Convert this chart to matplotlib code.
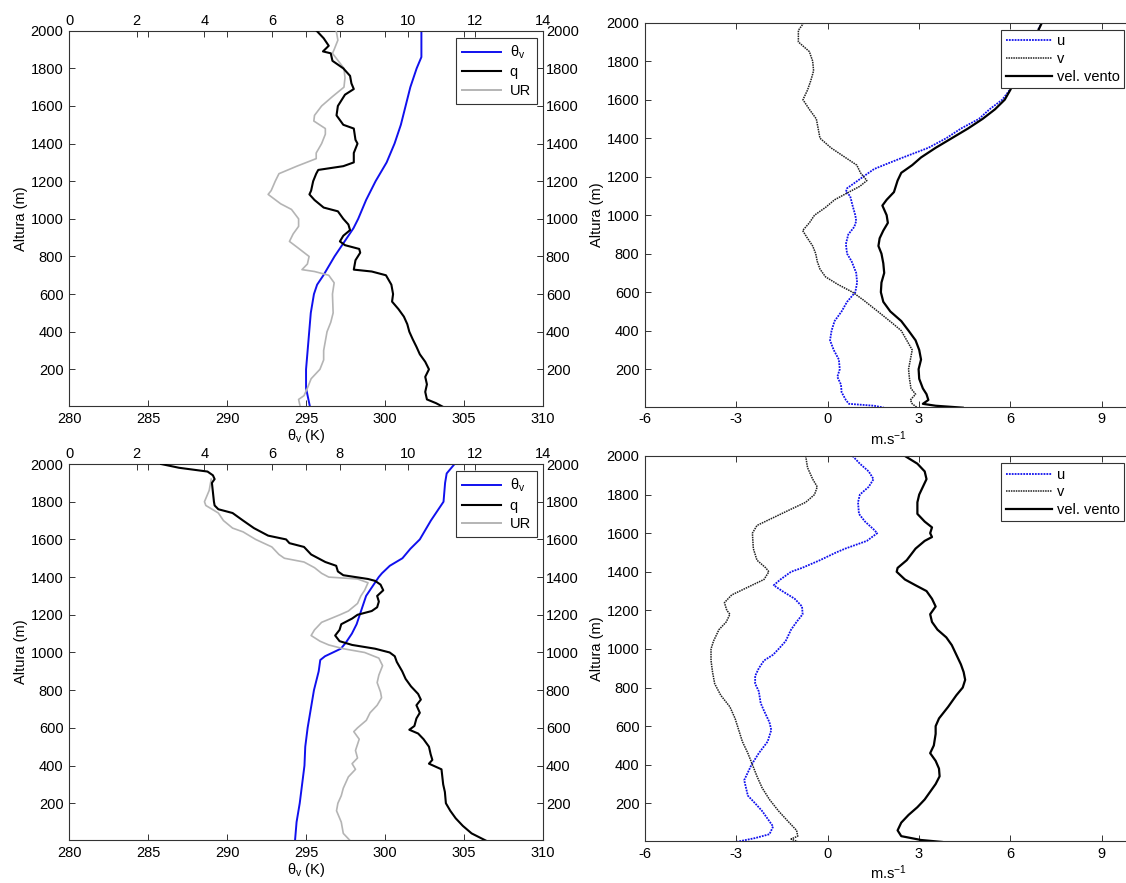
import matplotlib
matplotlib.use("Agg")
import matplotlib.pyplot as plt
from matplotlib.lines import Line2D

plt.rcParams['font.family'] = ['Liberation Sans', 'DejaVu Sans']
plt.rcParams['font.size'] = 10.5
plt.rcParams['mathtext.default'] = 'regular'
plt.rcParams['axes.unicode_minus'] = False

# ---- perfil 1 (superior): temperatura potencial virtual, umidade ----
z_tv1 = [2000, 1860, 1800, 1700, 1600, 1500, 1400, 1300, 1200, 1100, 1000, 950, 900,
         800, 700, 650, 600, 500, 400, 300, 200, 100, 20, 0]
tv1 = [302.3, 302.3, 302.0, 301.6, 301.3, 301.0, 300.6, 300.1, 299.4, 298.8, 298.3, 298.0,
       297.6, 296.8, 296.1, 295.7, 295.5, 295.3, 295.2, 295.1, 295.0, 295.0, 295.2, 295.25]

z_q1 = [2000, 1960, 1920, 1890, 1880, 1840, 1800, 1760, 1720, 1690, 1660, 1600, 1550, 1500,
        1480, 1420, 1400, 1350, 1300, 1280, 1260, 1240, 1200, 1150, 1130, 1100, 1060, 1040,
        1000, 970, 940, 910, 880, 860, 840, 820, 780, 730, 720, 700, 650, 600, 560, 520, 480,
        440, 400, 360, 320, 280, 240, 200, 160, 120, 80, 40, 20, 0]
q1 = [7.31, 7.52, 7.67, 7.5, 7.73, 7.78, 8.1, 8.3, 8.34, 8.41, 8.15, 7.94, 7.9, 8.1,
      8.41, 8.46, 8.52, 8.41, 8.41, 8.1, 7.36, 7.3, 7.21, 7.15, 7.1, 7.25, 7.52, 7.94,
      8.1, 8.25, 8.3, 8.1, 8.0, 8.15, 8.57, 8.6, 8.46, 8.41, 8.94, 9.36, 9.52, 9.57, 9.54,
      9.73, 9.89, 9.99, 10.05, 10.15, 10.26, 10.36, 10.52, 10.63, 10.52, 10.57, 10.52,
      10.57, 10.84, 11.05]

z_ur1 = [2000, 1950, 1900, 1880, 1800, 1750, 1700, 1650, 1600, 1550, 1520, 1480, 1450, 1400,
         1350, 1320, 1280, 1240, 1200, 1150, 1130, 1080, 1050, 1000, 960, 920, 880, 850, 800,
         760, 730, 720, 700, 660, 600, 500, 450, 400, 300, 250, 200, 150, 100, 60, 40, 0]
ur1 = [7.89, 7.94, 7.83, 7.78, 8.12, 8.15, 8.12, 7.78, 7.46, 7.25, 7.23, 7.57, 7.57, 7.46,
       7.3, 7.3, 6.73, 6.2, 6.09, 5.97, 5.88, 6.25, 6.57, 6.78, 6.78, 6.62, 6.51, 6.73, 7.09,
       7.04, 6.88, 7.25, 7.67, 7.83, 7.78, 7.8, 7.73, 7.62, 7.52, 7.52, 7.41, 7.15, 7.04,
       6.94, 6.78, 6.83]

# ---- perfil 1 (superior): vento ----
z_u1 = [2000, 1950, 1900, 1800, 1700, 1650, 1600, 1550, 1500, 1450, 1400, 1350, 1300, 1270,
        1240, 1200, 1160, 1140, 1120, 1100, 1050, 1000, 970, 940, 900, 850, 800, 760, 700,
        650, 600, 550, 500, 450, 400, 350, 300, 250, 200, 160, 120, 80, 40, 20, 10, 0]
u1 = [7.04, 6.87, 6.69, 6.45, 6.18, 5.98, 5.74, 5.32, 4.97, 4.38, 3.9, 3.31, 2.48, 2.0,
      1.53, 1.17, 0.82, 0.64, 0.6, 0.74, 0.82, 0.91, 0.94, 0.88, 0.68, 0.6, 0.64, 0.79, 0.94,
      0.97, 0.91, 0.64, 0.46, 0.23, 0.13, 0.08, 0.2, 0.37, 0.4, 0.32, 0.44, 0.46, 0.6, 0.7,
      1.53, 1.85]

z_v1 = [2000, 1960, 1900, 1850, 1800, 1750, 1700, 1650, 1600, 1550, 1500, 1450, 1400, 1350,
        1300, 1260, 1220, 1180, 1150, 1120, 1080, 1040, 1000, 960, 920, 880, 840, 800, 760,
        720, 680, 640, 600, 560, 500, 440, 400, 350, 300, 250, 200, 150, 100, 70, 40, 20, 0]
v1 = [-0.78, -0.96, -0.96, -0.6, -0.49, -0.46, -0.55, -0.66, -0.81, -0.6, -0.37, -0.31,
      -0.25, 0.11, 0.58, 0.96, 1.08, 1.29, 1.06, 0.7, 0.23, -0.07, -0.43, -0.6, -0.82,
      -0.66, -0.49, -0.39, -0.34, -0.25, -0.07, 0.34, 0.82, 1.17, 1.65, 2.12, 2.42, 2.6,
      2.78, 2.72, 2.66, 2.69, 2.74, 2.89, 2.72, 2.78, 2.95]

z_vel1 = [2000, 1800, 1650, 1600, 1550, 1500, 1450, 1400, 1350, 1300, 1260, 1220, 1180, 1120,
          1080, 1050, 1000, 960, 920, 880, 840, 800, 750, 700, 650, 600, 550, 500, 450, 400,
          350, 300, 250, 200, 150, 100, 70, 40, 20, 10, 0]
vel1 = [7.04, 6.45, 6.0, 5.82, 5.5, 5.09, 4.61, 4.08, 3.55, 3.07, 2.78, 2.42, 2.3, 2.18,
        1.94, 1.8, 1.94, 1.98, 1.83, 1.71, 1.67, 1.77, 1.83, 1.86, 1.77, 1.75, 1.83, 2.06,
        2.42, 2.66, 2.89, 3.01, 3.07, 2.99, 3.01, 3.13, 3.25, 3.31, 3.13, 3.55, 4.44]

# ---- perfil 2 (inferior): temperatura potencial virtual, umidade ----
z_tv2 = [2000, 1950, 1900, 1800, 1750, 1700, 1600, 1550, 1500, 1460, 1420, 1400, 1350, 1300,
         1250, 1200, 1150, 1100, 1050, 1020, 1000, 980, 960, 900, 800, 700, 600, 500, 400,
         300, 200, 100, 0]
tv2 = [304.4, 303.9, 303.8, 303.7, 303.3, 302.9, 302.2, 301.6, 301.1, 300.3, 299.8, 299.6,
       299.2, 298.8, 298.6, 298.4, 298.2, 297.9, 297.5, 297.2, 296.7, 296.2, 295.9, 295.8,
       295.5, 295.3, 295.1, 294.95, 294.9, 294.75, 294.6, 294.4, 294.3]

z_q2 = [2000, 1980, 1960, 1940, 1920, 1900, 1850, 1800, 1780, 1760, 1740, 1700, 1660, 1620,
        1600, 1580, 1560, 1520, 1480, 1460, 1430, 1410, 1390, 1380, 1360, 1330, 1300, 1270,
        1240, 1220, 1200, 1180, 1150, 1120, 1090, 1060, 1040, 1020, 1000, 980, 950, 900, 860,
        820, 780, 750, 720, 680, 650, 610, 590, 570, 540, 500, 460, 430, 410, 380, 300, 260,
        200, 160, 120, 80, 40, 0]
q2 = [2.72, 3.25, 4.09, 4.25, 4.3, 4.22, 4.25, 4.28, 4.3, 4.41, 4.83, 5.14, 5.46, 5.88,
      6.41, 6.51, 6.94, 7.15, 7.57, 7.89, 7.94, 8.1, 8.83, 9.04, 9.2, 9.28, 9.1, 9.15, 9.1,
      8.94, 8.52, 8.36, 8.04, 7.99, 7.86, 7.99, 8.36, 9.04, 9.47, 9.62, 9.68, 9.84, 9.94,
      10.1, 10.31, 10.39, 10.26, 10.36, 10.26, 10.2, 10.05, 10.31, 10.47, 10.63, 10.68,
      10.73, 10.63, 11.0, 11.05, 11.1, 11.13, 11.26, 11.42, 11.63, 11.89, 12.33]

z_ur2 = [1920, 1860, 1800, 1780, 1740, 1700, 1660, 1640, 1600, 1560, 1520, 1500, 1480, 1450,
         1420, 1400, 1390, 1370, 1330, 1300, 1260, 1220, 1200, 1160, 1120, 1090, 1060, 1040,
         1020, 1000, 970, 930, 880, 840, 790, 760, 720, 680, 640, 600, 580, 540, 480, 440,
         410, 380, 340, 280, 240, 200, 160, 100, 40, 0]
ur2 = [4.2, 4.14, 4.0, 4.04, 4.41, 4.56, 4.83, 5.14, 5.51, 5.99, 6.2, 6.36, 6.94, 7.25,
       7.46, 7.67, 8.52, 8.83, 8.73, 8.62, 8.52, 8.25, 8.0, 7.46, 7.25, 7.15, 7.41, 7.67,
       8.1, 8.73, 9.15, 9.26, 9.15, 9.1, 9.2, 9.23, 9.1, 8.89, 8.78, 8.52, 8.41, 8.57, 8.46,
       8.52, 8.36, 8.46, 8.25, 8.1, 8.04, 7.94, 7.9, 8.04, 8.1, 8.31]

# ---- perfil 2 (inferior): vento ----
z_u2 = [2000, 1960, 1920, 1880, 1840, 1800, 1760, 1700, 1660, 1620, 1600, 1560, 1520, 1500,
        1460, 1420, 1400, 1360, 1330, 1300, 1260, 1220, 1180, 1140, 1100, 1040, 1000, 970,
        940, 900, 860, 820, 780, 720, 680, 620, 580, 520, 460, 400, 360, 320, 280, 240, 200,
        160, 120, 80, 40, 20, 0]
u2 = [0.82, 1.06, 1.35, 1.51, 1.35, 1.06, 1.0, 1.03, 1.23, 1.51, 1.63, 1.29, 0.58, 0.28,
      -0.25, -0.84, -1.2, -1.55, -1.77, -1.49, -1.08, -0.84, -0.82, -1.02, -1.2, -1.38,
      -1.61, -1.79, -2.09, -2.26, -2.38, -2.38, -2.26, -2.2, -2.09, -1.91, -1.85, -1.97,
      -2.26, -2.5, -2.62, -2.74, -2.68, -2.62, -2.38, -2.15, -1.97, -1.79, -1.91, -2.38, -3.0]

z_v2 = [2000, 1940, 1880, 1840, 1800, 1760, 1720, 1680, 1640, 1600, 1520, 1460, 1420, 1400,
        1360, 1320, 1280, 1240, 1200, 1180, 1140, 1100, 1040, 1000, 940, 880, 820, 760, 700,
        640, 580, 520, 460, 400, 340, 280, 220, 160, 100, 60, 30, 15, 0]
v2 = [-0.72, -0.66, -0.49, -0.34, -0.43, -0.72, -1.26, -1.79, -2.32, -2.47, -2.44, -2.32,
      -2.03, -1.93, -2.09, -2.62, -3.15, -3.39, -3.31, -3.21, -3.33, -3.57, -3.75, -3.83,
      -3.83, -3.78, -3.71, -3.51, -3.21, -3.04, -2.92, -2.8, -2.62, -2.47, -2.32, -2.15,
      -1.91, -1.61, -1.26, -1.02, -0.98, -1.2, -0.96]

z_vel2 = [2000, 1960, 1920, 1880, 1840, 1800, 1760, 1700, 1660, 1630, 1600, 1580, 1560, 1520,
          1460, 1420, 1400, 1360, 1330, 1300, 1260, 1220, 1180, 1140, 1100, 1060, 1020, 980,
          920, 880, 840, 800, 760, 700, 640, 600, 560, 500, 460, 420, 380, 340, 300, 260, 220,
          180, 140, 100, 60, 30, 10, 0]
vel2 = [2.54, 2.95, 3.19, 3.25, 3.13, 3.01, 2.95, 2.95, 3.19, 3.43, 3.37, 3.43, 3.19, 2.89,
        2.6, 2.3, 2.27, 2.54, 2.89, 3.25, 3.43, 3.55, 3.37, 3.43, 3.61, 3.9, 4.08, 4.2, 4.38,
        4.47, 4.52, 4.44, 4.23, 3.96, 3.66, 3.55, 3.55, 3.49, 3.37, 3.55, 3.66, 3.68, 3.55,
        3.37, 3.19, 2.95, 2.66, 2.42, 2.3, 2.42, 3.07, 3.76]

yticks = list(range(200, 2001, 200))
ylim = (5, 2000)
axis_color = '#333333'
blue = '#1010ee'
gray = '#b4b4b4'


def style_axes(ax):
    for sp in ax.spines.values():
        sp.set_color(axis_color)
        sp.set_linewidth(0.8)
    ax.tick_params(direction='in', length=4.5, width=0.7, color=axis_color, pad=4)


def thermo_panel(fig, rect, z_tv, tv, z_q, q, z_ur, ur):
    ax = fig.add_axes(rect)
    ax.plot(tv, z_tv, color=blue, lw=1.4)
    ax.set_xlim(280, 310)
    ax.set_ylim(*ylim)
    ax.set_xticks(range(280, 311, 5))
    ax.set_yticks(yticks)
    ax.set_ylabel('Altura (m)', labelpad=2)
    ax.set_xlabel(r'$\theta_v$ (K)', labelpad=1)
    style_axes(ax)
    ax.tick_params(top=True, right=True)

    # segundo eixo: umidade no topo, alturas repetidas a direita
    ax2 = fig.add_axes(rect, frameon=False)
    ax2.plot(ur, z_ur, color=gray, lw=1.2)
    ax2.plot(q, z_q, color='black', lw=1.5)
    ax2.set_xlim(0, 14)
    ax2.set_ylim(*ylim)
    ax2.set_xticks(range(0, 15, 2))
    ax2.set_yticks(yticks)
    ax2.xaxis.tick_top()
    ax2.yaxis.tick_right()
    style_axes(ax2)
    ax2.tick_params(pad=2)

    handles = [Line2D([], [], color=blue, lw=1.4),
               Line2D([], [], color='black', lw=1.5),
               Line2D([], [], color=gray, lw=1.4)]
    leg = ax2.legend(handles, [r'$\theta_v$', 'q', 'UR'], loc='upper right',
                     bbox_to_anchor=(0.987, 0.981), borderaxespad=0, fancybox=False,
                     handlelength=2.7, handletextpad=0.6, labelspacing=0.3,
                     borderpad=0.4, framealpha=1)
    leg.get_frame().set_edgecolor(axis_color)
    leg.get_frame().set_linewidth(0.8)
    return ax


def wind_panel(fig, rect, z_u, u, z_v, v, z_vel, vel):
    ax = fig.add_axes(rect)
    lu, = ax.plot(u, z_u, color=blue, lw=1.3, ls=(0, (1, 0.6)))
    lv, = ax.plot(v, z_v, color='#202020', lw=1.1, ls=(0, (1, 0.6)))
    lvel, = ax.plot(vel, z_vel, color='black', lw=1.6)
    ax.set_xlim(-6, 10)
    ax.set_ylim(*ylim)
    ax.set_xticks(range(-6, 10, 3))
    ax.set_yticks(yticks)
    ax.set_ylabel('Altura (m)', labelpad=2)
    ax.set_xlabel(r'm.s$^{-1}$', labelpad=2)
    style_axes(ax)
    ax.tick_params(top=True, right=True)
    leg = ax.legend([lu, lv, lvel], ['u', 'v', 'vel. vento'], loc='upper right',
                    bbox_to_anchor=(0.9836, 0.981), borderaxespad=0, fancybox=False,
                    handlelength=3.2, handletextpad=0.3, labelspacing=0.25,
                    borderpad=0.3, framealpha=1)
    leg.get_frame().set_edgecolor(axis_color)
    leg.get_frame().set_linewidth(0.8)
    return ax


fig = plt.figure(figsize=(11.26, 8.83), dpi=100)

thermo_panel(fig, [0.0613, 0.5402, 0.421, 0.425], z_tv1, tv1, z_q1, q1, z_ur1, ur1)
thermo_panel(fig, [0.0613, 0.0487, 0.421, 0.4258], z_tv2, tv2, z_q2, q2, z_ur2, ur2)
wind_panel(fig, [0.5728, 0.5394, 0.4325, 0.4349], z_u1, u1, z_v1, v1, z_vel1, vel1)
wind_panel(fig, [0.5728, 0.0476, 0.4325, 0.436], z_u2, u2, z_v2, v2, z_vel2, vel2)

fig.savefig('out.png', dpi=100)
